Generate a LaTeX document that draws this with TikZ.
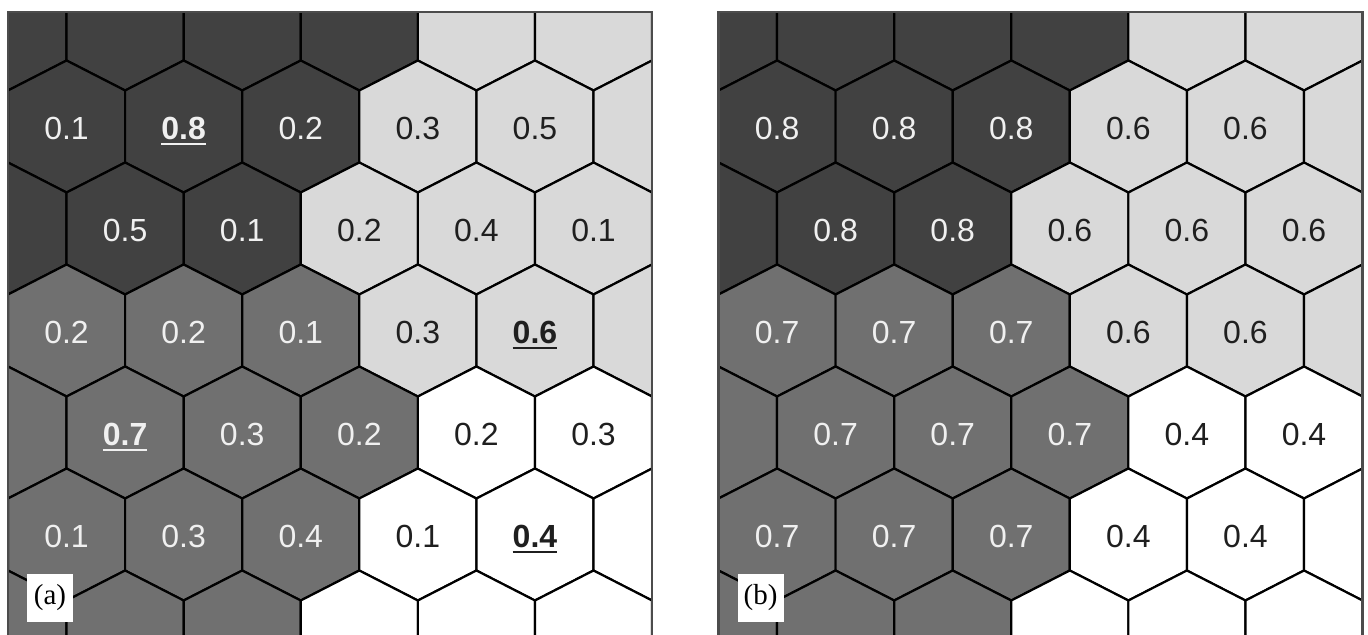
\documentclass[tikz,border=0pt]{standalone}
\usepackage{fontspec}
\setmainfont{Liberation Serif}
\setsansfont{Liberation Sans}
\usepackage{xcolor}
\definecolor{cellD}{HTML}{414141}
\definecolor{cellM}{HTML}{707070}
\definecolor{cellL}{HTML}{D9D9D9}
\definecolor{cellW}{HTML}{FFFFFF}
\newcommand{\hexul}[1]{\setbox0\hbox{\bfseries#1}%
  \rlap{\raisebox{-2.6pt}[0pt][0pt]{\rule{\wd0}{1.1pt}}}\box0}
\tikzset{
  cell/.style     = {draw=black, line width=1.1pt, line join=miter},
  valwhite/.style = {inner sep=0pt, text=white!94!black,
                     font=\sffamily\fontsize{16}{18}\selectfont},
  valblack/.style = {inner sep=0pt, text=black!88,
                     font=\sffamily\fontsize{16}{18}\selectfont},
  tag/.style      = {fill=white, inner sep=0pt, minimum width=23pt,
                     minimum height=24pt,
                     font=\rmfamily\fontsize{14.5}{16}\selectfont},
  frame/.style    = {draw=black!70, line width=1.2pt},
}

\begin{document}
\begin{tikzpicture}[x=0.5pt,y=-0.5pt]
\useasboundingbox (0,0) rectangle (1368,635);

% hexagon grids, same colouring in both panels
\foreach \p/\dx in {a/0,b/710.5}{
  \begin{scope}
    \clip (8+\dx,12) rectangle (652+\dx,640);
    \foreach \r/\fills in {0/{D,D,D,D,L,L},1/{D,D,D,L,L,L},2/{D,D,D,L,L,L},
                           3/{M,M,M,L,L,L},4/{M,M,M,M,W,W},5/{M,M,M,W,W,W},
                           6/{M,M,M,W,W,W}}{
      \foreach \f [count=\c from 0] in \fills {
        \pgfmathsetmacro{\cx}{\dx+8+58.55*mod(\r,2)+117.1*\c}
        \pgfmathsetmacro{\cy}{24.5+102*\r}
        \draw[cell, fill=cell\f] (\cx,\cy) +(0,-66) -- +(58.55,-36)
          -- +(58.55,36) -- +(0,66) -- +(-58.55,36) -- +(-58.55,-36) -- cycle;
      }
    }
  \end{scope}
  \draw[frame] (8+\dx,640) -- (8+\dx,12) -- (652+\dx,12) -- (652+\dx,640);
}

% values, panel (a)
\foreach \r/\c/\s/\val in {1/0/valwhite/0.1, 1/1/valwhite/\hexul{0.8}, 1/2/valwhite/0.2,
    1/3/valblack/0.3, 1/4/valblack/0.5,
    2/1/valwhite/0.5, 2/2/valwhite/0.1, 2/3/valblack/0.2, 2/4/valblack/0.4, 2/5/valblack/0.1,
    3/0/valwhite/0.2, 3/1/valwhite/0.2, 3/2/valwhite/0.1, 3/3/valblack/0.3,
    3/4/valblack/\hexul{0.6},
    4/1/valwhite/\hexul{0.7}, 4/2/valwhite/0.3, 4/3/valwhite/0.2, 4/4/valblack/0.2,
    4/5/valblack/0.3,
    5/0/valwhite/0.1, 5/1/valwhite/0.3, 5/2/valwhite/0.4, 5/3/valblack/0.1,
    5/4/valblack/\hexul{0.4}}{
  \pgfmathsetmacro{\cx}{8+58.55*mod(\r,2)+117.1*\c}
  \pgfmathsetmacro{\cy}{26.5+102*\r}
  \node[\s] (a-\r-\c) at (\cx,\cy) {\val};
}

% values, panel (b)
\foreach \r/\c/\s/\val in {1/0/valwhite/0.8, 1/1/valwhite/0.8, 1/2/valwhite/0.8,
    1/3/valblack/0.6, 1/4/valblack/0.6,
    2/1/valwhite/0.8, 2/2/valwhite/0.8, 2/3/valblack/0.6, 2/4/valblack/0.6, 2/5/valblack/0.6,
    3/0/valwhite/0.7, 3/1/valwhite/0.7, 3/2/valwhite/0.7, 3/3/valblack/0.6, 3/4/valblack/0.6,
    4/1/valwhite/0.7, 4/2/valwhite/0.7, 4/3/valwhite/0.7, 4/4/valblack/0.4, 4/5/valblack/0.4,
    5/0/valwhite/0.7, 5/1/valwhite/0.7, 5/2/valwhite/0.7, 5/3/valblack/0.4,
    5/4/valblack/0.4}{
  \pgfmathsetmacro{\cx}{710.5+8+58.55*mod(\r,2)+117.1*\c}
  \pgfmathsetmacro{\cy}{26.5+102*\r}
  \node[\s] (b-\r-\c) at (\cx,\cy) {\val};
}

% panel tags
\node[tag] (tag-a) at (50,598) {(a)};
\node[tag] (tag-b) at (760.5,598) {(b)};
\end{tikzpicture}
\end{document}
